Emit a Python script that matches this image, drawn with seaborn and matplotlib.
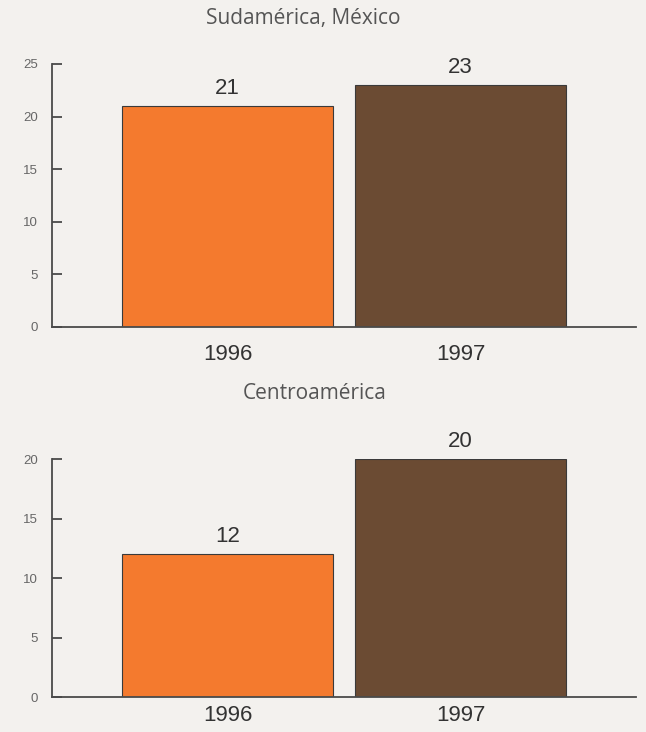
import matplotlib
matplotlib.use("Agg")
import matplotlib.pyplot as plt
import seaborn as sns
import pandas as pd

years = ["1996", "1997"]
sud_values = [21, 23]
centro_values = [12, 20]
titles = ["Sudamérica, México", "Centroamérica"]
bar_colors = ["#f47a2e", "#6b4b33"]

sns.set_theme(style="white")
plt.rcParams["font.family"] = ["Liberation Sans", "DejaVu Sans"]

bg = "#f3f1ee"
fig = plt.figure(figsize=(6.46, 7.32), dpi=100, facecolor=bg)

ax1 = fig.add_axes([0.0805, 0.5533, 0.904, 0.3593])
ax2 = fig.add_axes([0.0805, 0.0478, 0.904, 0.3251])

panels = [
    (ax1, sud_values, 25, [0, 5, 10, 15, 20, 25], 0.975, titles[0], 0.47, 12),
    (ax2, centro_values, 20, [0, 5, 10, 15, 20], 0.462, titles[1], 0.487, 6),
]

for ax, vals, ymax, yticks, ty, title, tx, xpad in panels:
    df = pd.DataFrame({"year": years, "value": vals})
    sns.barplot(data=df, x="year", y="value", hue="year", palette=bar_colors,
                width=0.906, edgecolor="#3a3a3a", linewidth=0.8, legend=False,
                ax=ax, saturation=1)
    ax.set_facecolor("none")
    ax.set_xlim(-0.753, 1.753)
    ax.set_ylim(0, ymax)
    ax.set_yticks(yticks)
    ax.set_xlabel("")
    ax.set_ylabel("")
    for s in ["top", "right"]:
        ax.spines[s].set_visible(False)
    for s in ["left", "bottom"]:
        ax.spines[s].set_color("#4a4a4a")
        ax.spines[s].set_linewidth(1.3)
    ax.tick_params(axis="y", direction="in", length=7, width=1.3, color="#4a4a4a",
                   labelsize=9.5, labelcolor="#666666", pad=10, left=True)
    ax.tick_params(axis="x", length=0, labelsize=16, labelcolor="#333333", pad=xpad)
    for p in ax.patches:
        h = p.get_height()
        if h and h > 0:
            ax.annotate(f"{int(round(h))}", (p.get_x() + p.get_width() / 2, h),
                        xytext=(0, 5), textcoords="offset points",
                        ha="center", va="bottom", fontsize=16, color="#333333")
    fig.text(tx, ty, title, ha="center", va="center",
             fontsize=15, color="#555555", family=["Open Sans", "DejaVu Sans"])

fig.savefig("out.png", dpi=100, facecolor=bg)
